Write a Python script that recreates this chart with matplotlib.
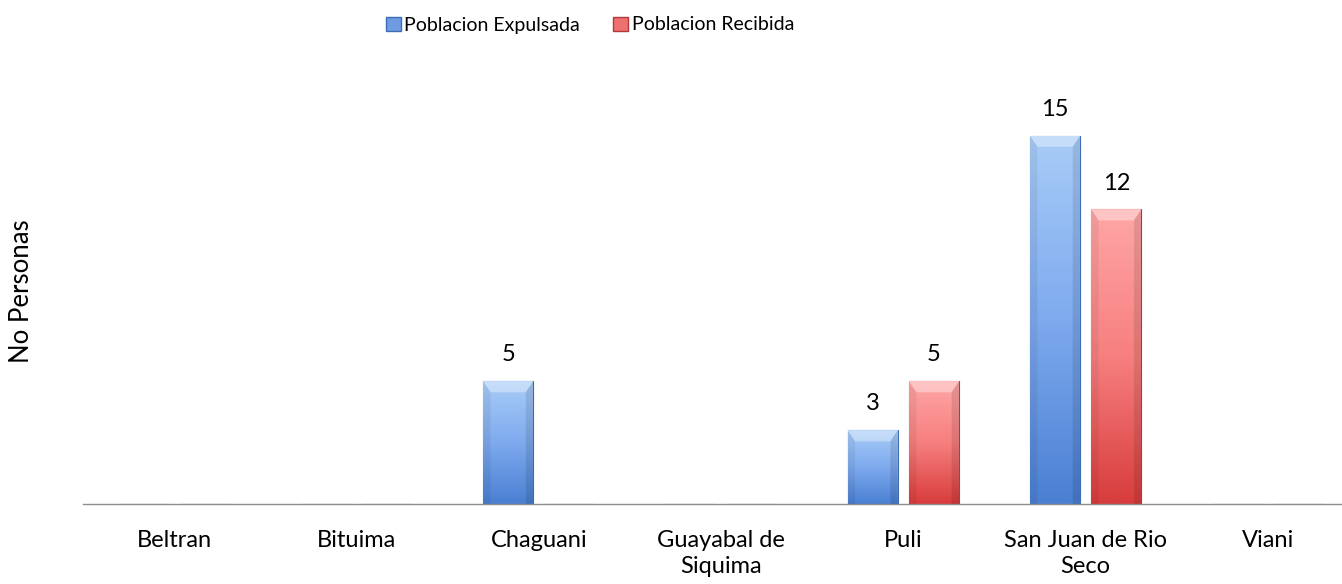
import numpy as np
import matplotlib
matplotlib.use("Agg")
import matplotlib.pyplot as plt
from matplotlib.patches import Patch
from matplotlib.colors import LinearSegmentedColormap

categories = ["Beltran", "Bituima", "Chaguani", "Guayabal de\nSiquima", "Puli",
              "San Juan de Rio\nSeco", "Viani"]
expulsada = [0, 0, 5, 0, 3, 15, 0]
recibida = [0, 0, 0, 0, 5, 12, 0]
series_names = ["Poblacion Expulsada", "Poblacion Recibida"]

plt.rcParams['font.family'] = ['Lato', 'DejaVu Sans']

W, H = 1342, 584
fig = plt.figure(figsize=(W / 100, H / 100), dpi=100)
left, right, bottom, top = 83, 1342, 584 - 504, 584 - 60
ax = fig.add_axes([left / W, bottom / H, (right - left) / W, (top - bottom) / H])

px_per_cat = 182.3
ax.set_xlim(-0.5, -0.5 + (right - left) / px_per_cat)
ax.set_ylim(0, (top - bottom) / 24.55)

x = np.arange(len(categories))
bw = 0.274
off = 0.168

blue_cmap = LinearSegmentedColormap.from_list("b", ["#a9cdf8", "#7eaaee", "#4a7fd2"])
red_cmap = LinearSegmentedColormap.from_list("r", ["#ffa6a6", "#f77f7f", "#d83c3c"])

bars_e = ax.bar(x - off, expulsada, bw, color="#6f9be3", edgecolor="#3d6bb5", linewidth=0.8, zorder=2)
bars_r = ax.bar(x + off, recibida, bw, color="#ee7070", edgecolor="#b23a3a", linewidth=0.8, zorder=2)

grad = np.linspace(0, 1, 256).reshape(-1, 1)
for bars, cmap in ((bars_e, blue_cmap), (bars_r, red_cmap)):
    for b in bars:
        h = b.get_height()
        if h <= 0:
            continue
        x0, w = b.get_x(), b.get_width()
        im = ax.imshow(grad, cmap=cmap, aspect="auto", extent=(x0, x0 + w, 0, h),
                       origin="upper", zorder=2.5)
        im.set_clip_path(b)
        bev = 0.45
        sx = 0.04
        ax.fill([x0, x0 + w, x0 + w - sx, x0 + sx],
                [h, h, h - bev, h - bev], color="white", alpha=0.35, lw=0, zorder=2.6)
        ax.fill([x0, x0 + sx, x0 + sx, x0], [h, h - bev, 0, 0],
                color="black", alpha=0.06, lw=0, zorder=2.6)
        ax.fill([x0 + w, x0 + w - sx, x0 + w - sx, x0 + w], [h, h - bev, 0, 0],
                color="black", alpha=0.10, lw=0, zorder=2.6)
        ax.annotate(f"{int(h)}", (x0 + w / 2, h), xytext=(0, 19), textcoords="offset points",
                    ha="center", va="center", fontsize=17, color="black")

ax.set_xticks(x)
ax.set_xticklabels(categories, fontsize=17, linespacing=1.3)
ax.tick_params(axis="x", length=0, pad=19)
ax.set_yticks([])
for s in ("top", "right", "left"):
    ax.spines[s].set_visible(False)
ax.spines["bottom"].set_color("#8c8c8c")
ax.spines["bottom"].set_linewidth(1.0)

fig.text(22 / W, 1 - 291 / H, "No Personas", rotation=90, ha="center", va="center", fontsize=18.5)

handles = [Patch(facecolor="#6f9be3", edgecolor="#3d6bb5"),
           Patch(facecolor="#ee7070", edgecolor="#b23a3a")]
fig.legend(handles, series_names, loc="center", bbox_to_anchor=(590 / W, 1 - 25 / H),
           ncol=2, frameon=False, fontsize=14, handlelength=0.75, handleheight=0.75,
           handletextpad=0.2, columnspacing=1.7, borderpad=0)

fig.savefig("out.png", dpi=100)
